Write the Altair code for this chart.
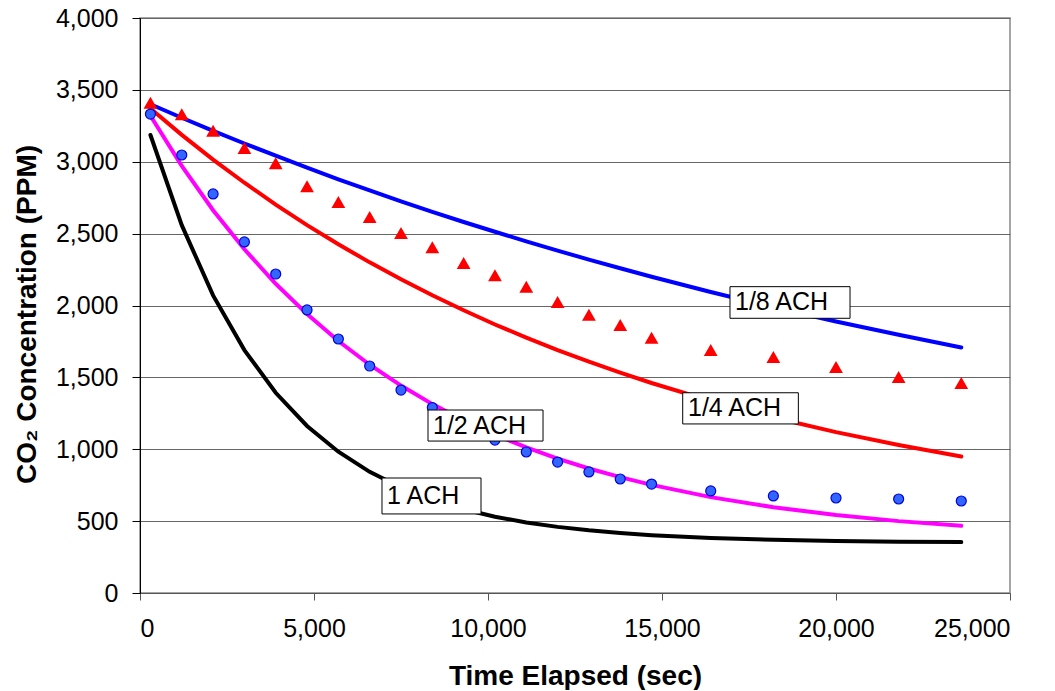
import altair as alt
import pandas as pd

# Time points (sec)
t = [300, 1200, 2100, 3000, 3900, 4800, 5700, 6600, 7500, 8400, 9300,
     10200, 11100, 12000, 12900, 13800, 14700, 16400, 18200, 20000, 21800, 23600]

# Model curves (PPM)
ach_1 = [3186, 2559, 2070, 1690, 1393, 1162, 983, 843, 734, 649, 583,
         531, 491, 460, 436, 417, 402, 382, 370, 362, 357, 354]
ach_half = [3320, 2971, 2663, 2391, 2151, 1940, 1753, 1588, 1443, 1314, 1201,
            1101, 1013, 935, 866, 806, 752, 667, 597, 543, 500, 467]
ach_quarter = [3370, 3187, 3015, 2854, 2702, 2559, 2426, 2300, 2182, 2071, 1967,
               1868, 1777, 1690, 1609, 1533, 1461, 1337, 1221, 1119, 1029, 949]
ach_eighth = [3400, 3306, 3215, 3127, 3042, 2959, 2878, 2801, 2725, 2652, 2581,
              2513, 2446, 2382, 2319, 2259, 2200, 2094, 1988, 1889, 1796, 1708]

# Measured data (PPM)
meas_triangles = [3410, 3330, 3215, 3095, 2990, 2830, 2720, 2615, 2505, 2405, 2295,
                  2210, 2130, 2025, 1935, 1865, 1775, 1690, 1642, 1572, 1503, 1461]
meas_circles = [3332, 3047, 2776, 2442, 2219, 1969, 1767, 1579, 1412, 1290, 1170,
                1064, 981, 911, 842, 793, 758, 710, 675, 661, 654, 640]

# Annotation labels (data units)
labels = ["1/8 ACH", "1/4 ACH", "1/2 ACH", "1 ACH"]
box_x1 = [16954, 15595, 8276, 6954]
box_x2 = [20403, 18918, 11581, 9799]
box_top = [2131, 1393, 1273, 800]
box_bot = [1911, 1176, 1057, 550]
text_x = [17098, 15747, 8420, 7098]
text_y = [2021, 1285, 1165, 675]

series_names = ["1 ACH", "1/2 ACH", "1/4 ACH", "1/8 ACH"]
series_vals = [ach_1, ach_half, ach_quarter, ach_eighth]
series_colors = ["#000000", "#FF00FF", "#FF0000", "#0000FF"]

lines_df = pd.DataFrame(
    [{"t": tt, "ppm": v, "series": n}
     for n, vals in zip(series_names, series_vals)
     for tt, v in zip(t, vals)]
)
tri_df = pd.DataFrame({"t": t, "ppm": meas_triangles})
circ_df = pd.DataFrame({"t": t, "ppm": meas_circles})
ann_df = pd.DataFrame({"label": labels, "x1": box_x1, "x2": box_x2,
                       "top": box_top, "bot": box_bot, "tx": text_x, "ty": text_y})

FONT = "Liberation Sans"

xscale = alt.Scale(domain=[0, 25000], nice=False, zero=True)
yscale = alt.Scale(domain=[0, 4000], nice=False, zero=True)

xaxis = alt.Axis(
    values=[0, 5000, 10000, 15000, 20000, 25000], format=",.0f",
    title="Time Elapsed (sec)", grid=False,
    domainColor="#555555", tickColor="#555555", tickSize=7,
    labelFont=FONT, labelFontSize=25, labelColor="#000000",
    labelBaseline="alphabetic", labelPadding=36,
    titleFont=FONT, titleFontSize=28, titleFontWeight="bold", titleColor="#000000",
    titleX=435, titleY=91, titleBaseline="alphabetic", titleAlign="center",
)
yaxis = alt.Axis(
    values=[0, 500, 1000, 1500, 2000, 2500, 3000, 3500, 4000], format=",.0f",
    title="CO₂ Concentration (PPM)", grid=True, gridColor="#666666", gridWidth=1,
    domainColor="#000000", tickColor="#000000", tickSize=8,
    labelFont=FONT, labelFontSize=25, labelColor="#000000",
    labelPadding=14, labelBaseline="middle",
    titleFont=FONT, titleFontSize=28, titleFontWeight="bold", titleColor="#000000",
    titleAngle=-90, titleX=-105, titleY=296, titleBaseline="alphabetic", titleAlign="center",
)

lines = alt.Chart(lines_df).mark_line(strokeWidth=4, strokeCap="round").encode(
    x=alt.X("t:Q", scale=xscale, axis=xaxis),
    y=alt.Y("ppm:Q", scale=yscale, axis=yaxis),
    color=alt.Color("series:N", scale=alt.Scale(domain=series_names, range=series_colors), legend=None),
    detail="series:N",
)

tris = alt.Chart(tri_df).mark_point(shape="triangle-up", filled=True, color="#FF0000",
                                    size=190, opacity=1).encode(
    x=alt.X("t:Q", scale=xscale), y=alt.Y("ppm:Q", scale=yscale))

circs = alt.Chart(circ_df).mark_point(shape="circle", filled=True, fill="#3366FF",
                                      stroke="#0000DD", strokeWidth=1.2,
                                      size=100, opacity=1).encode(
    x=alt.X("t:Q", scale=xscale), y=alt.Y("ppm:Q", scale=yscale))

boxes = alt.Chart(ann_df).mark_rect(fill="#FFFFFF", stroke="#000000", strokeWidth=1).encode(
    x=alt.X("x1:Q", scale=xscale), x2="x2:Q",
    y=alt.Y("top:Q", scale=yscale), y2="bot:Q")

texts = alt.Chart(ann_df).mark_text(align="left", baseline="middle", font=FONT,
                                    fontSize=25, color="#000000").encode(
    x=alt.X("tx:Q", scale=xscale), y=alt.Y("ty:Q", scale=yscale), text="label:N")

chart = alt.layer(lines, tris, circs, boxes, texts).properties(
    width=870, height=575,
    autosize=alt.AutoSizeParams(type="none"),
    padding={"left": 132, "top": 10, "right": 37, "bottom": 97},
    background="#FFFFFF",
).configure_view(stroke="#888888", strokeWidth=1.5)

chart.save("out.html", embed_options={"renderer": "svg", "actions": False})
